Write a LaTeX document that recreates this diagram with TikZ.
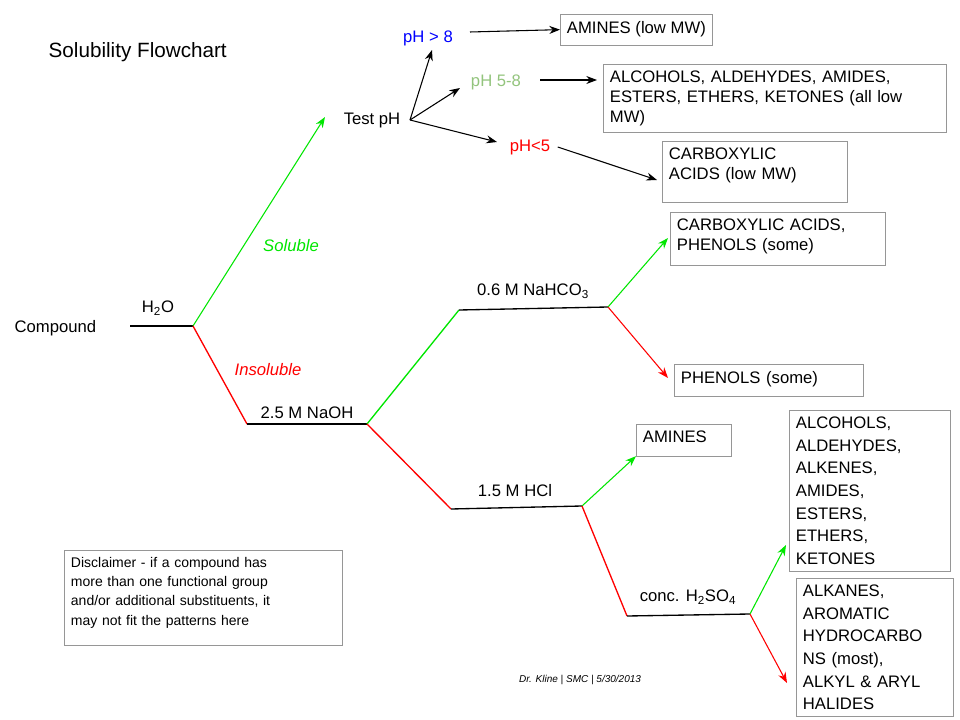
\documentclass[tikz,border=0pt]{standalone}
\usepackage{fontspec}
\setmainfont{Liberation Sans}
\usetikzlibrary{arrows.meta}
\definecolor{gr}{RGB}{0,230,0}
\definecolor{lg}{RGB}{147,196,125}
\definecolor{bx}{RGB}{150,150,150}
\begin{document}
\begin{tikzpicture}[x=0.75pt,y=-0.75pt,
  t/.style={font=\fontsize{12.5}{14}\selectfont, inner sep=1pt},
  box/.style={draw=bx, font=\fontsize{12.5}{15}\selectfont, align=left, anchor=north west, inner sep=5pt},
  arr/.style={-{Stealth[length=8pt,width=6pt]}, line width=0.8pt},
  ln/.style={line width=1pt},
  G/.style={draw=gr, line width=1pt}, R/.style={draw=red, line width=1pt}]
\useasboundingbox (0,0) rectangle (960,720);
\node[font=\fontsize{15.5}{17}\selectfont, anchor=west] (title) at (44,52) {Solubility Flowchart};
\node[t, anchor=west] (cmp) at (13,328) {Compound};
\coordinate (h1) at (130,326); \coordinate (h2) at (193,326);
\draw[ln] (h1) -- (h2);
\node[t] (h2o) at (158,308) {H\textsubscript{2}O};
\coordinate (tp) at (325,117);
\draw[G, arr] (h2) -- (tp);
\node[t, text=gr, font=\fontsize{12.5}{14}\selectfont\itshape] (sol) at (291,246) {Soluble};
\coordinate (na1) at (247,424); \coordinate (na2) at (367,424);
\draw[R] (h2) -- (na1); \draw[ln] (na1) -- (na2);
\node[t, text=red, font=\fontsize{12.5}{14}\selectfont\itshape] (ins) at (268,370) {Insoluble};
\node[t] (naoh) at (307,413) {2.5 M NaOH};
\node[t] (testph) at (372,120) {Test pH};
\coordinate (ph0) at (410,120);
\node[t, text=blue] (p8) at (428,38) {pH > 8};
\node[t, text=lg] (p58) at (496,82) {pH 5-8};
\node[t, text=red] (p5) at (530,147) {pH<5};
\draw[arr] (ph0) -- (432,50);
\draw[arr] (ph0) -- (460,88);
\draw[arr] (ph0) -- (497,142);
\node[box] (am1) at (560,14) {AMINES (low MW)\rule[-4pt]{0pt}{0pt}};
\node[box, text width=330pt*0.75] (alc) at (603,64) {ALCOHOLS, ALDEHYDES, AMIDES,\\ESTERS, ETHERS, KETONES (all low\\MW)};
\node[box, text width=172pt*0.75] (ca1) at (662,141) {CARBOXYLIC\\ACIDS (low MW)\rule[-12pt]{0pt}{0pt}};
\draw[arr] (470,32) -- (am1.west);
\draw[arr] (540,80) -- (597,80);
\draw[arr] (p5.east) ++(6,0) -- (657,180);
\coordinate (nb1) at (459,310); \coordinate (nb2) at (608,307);
\draw[G] (na2) -- (nb1); \draw[ln] (nb1) -- (nb2);
\node[t] (nahco) at (533,291) {0.6 M NaHCO\textsubscript{3}};
\node[box, text width=202pt*0.75] (cap) at (670,212) {CARBOXYLIC ACIDS,\\PHENOLS (some)\rule[-6pt]{0pt}{0pt}};
\node[box, text width=176pt*0.75] (phs) at (674,364) {PHENOLS (some)\rule[-5pt]{0pt}{0pt}};
\draw[G, arr] (nb2) -- (668,238);
\draw[R, arr] (nb2) -- (668,378);
\coordinate (hc1) at (451,509); \coordinate (hc2) at (582,506);
\draw[R] (na2) -- (hc1); \draw[ln] (hc1) -- (hc2);
\node[t] (hcl) at (515,491) {1.5 M HCl};
\node[box, text width=82pt*0.75] (am2) at (636,424) {AMINES\rule[-5pt]{0pt}{0pt}};
\draw[G, arr] (hc2) -- (am2.south west);
\coordinate (hs1) at (627,616); \coordinate (hs2) at (750,614);
\draw[R] (hc2) -- (hs1); \draw[ln] (hs1) -- (hs2);
\node[t] (h2so4) at (688,597) {conc. H\textsubscript{2}SO\textsubscript{4}};
\node[box, font=\fontsize{12.5}{17}\selectfont, text width=148pt*0.75] (alc2) at (789,410) {ALCOHOLS,\\ALDEHYDES,\\ALKENES,\\AMIDES,\\ESTERS,\\ETHERS,\\KETONES};
\node[box, font=\fontsize{12.5}{17}\selectfont, text width=144pt*0.75] (alk) at (796,578) {ALKANES,\\AROMATIC\\HYDROCARBO\\NS (most),\\ALKYL \& ARYL\\HALIDES};
\draw[G, arr] (hs2) -- (786,545);
\draw[R, arr] (hs2) -- (787,683);
\node[box, font=\fontsize{10.5}{14.5}\selectfont, text width=265pt*0.75] (disc) at (64,550) {Disclaimer - if a compound has\\more than one functional group\\and/or additional substituents, it\\may not fit the patterns here\rule[-10pt]{0pt}{0pt}};
\node[font=\fontsize{7.5}{9}\selectfont\itshape] (cred) at (580,680) {Dr. Kline | SMC | 5/30/2013};
\end{tikzpicture}
\end{document}
